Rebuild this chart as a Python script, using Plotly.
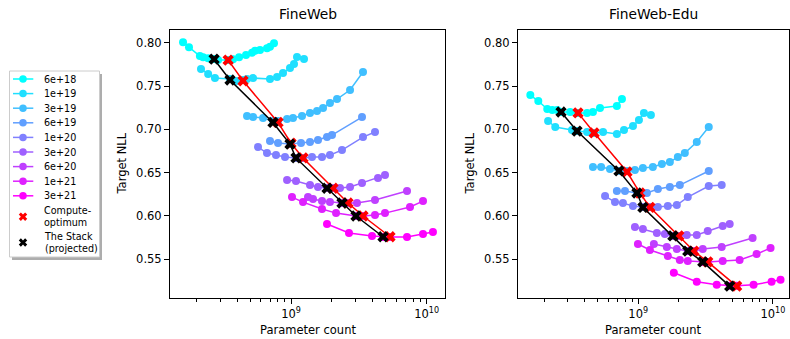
import plotly.graph_objects as go

budgets = ["6e+18", "1e+19", "3e+19", "6e+19", "1e+20", "3e+20", "6e+20", "1e+21", "3e+21"]

# ---- FineWeb (parameters in billions, target NLL) ----
fw_params = [
    [0.160, 0.177, 0.213, 0.225, 0.245, 0.271, 0.290, 0.344, 0.374, 0.414, 0.466, 0.516, 0.543, 0.591, 0.665, 0.700, 0.749],
    [0.217, 0.245, 0.275, 0.355, 0.400, 0.443, 0.474, 0.525, 0.700, 0.789, 0.873, 0.983, 1.052, 1.107, 1.247],
    [0.474, 0.525, 0.622, 0.736, 0.802, 0.935, 1.034, 1.205, 1.380, 1.555, 1.722, 1.937, 2.183, 2.723, 3.393],
    [0.700, 0.802, 0.983, 1.185, 1.380, 1.581, 1.842, 2.005, 3.337],
    [0.571, 0.665, 0.775, 0.903, 1.088, 1.226, 1.428, 1.692, 1.937, 2.375, 3.393, 4.159],
    [0.935, 1.088, 1.380, 1.581, 1.842, 2.040, 2.296, 2.723, 3.337, 4.377, 4.929],
    [1.334, 1.452, 1.692, 1.937, 2.375, 2.630, 3.064, 4.159, 7.161],
    [1.017, 1.226, 1.692, 2.147, 3.013, 3.393, 4.159, 4.929, 7.534, 9.393],
    [1.842, 2.675, 3.954, 4.764, 5.364, 7.161, 9.393, 11.12],
]
fw_nll = [
    [0.8005, 0.7947, 0.7846, 0.7831, 0.7820, 0.7812, 0.7800, 0.7800, 0.7808, 0.7831, 0.7858, 0.7885, 0.7908, 0.7916, 0.7935, 0.7954, 0.7993],
    [0.7696, 0.7639, 0.7592, 0.7581, 0.7558, 0.7569, 0.7581, 0.7592, 0.7581, 0.7604, 0.7650, 0.7708, 0.7754, 0.7835, 0.7812],
    [0.7154, 0.7142, 0.7130, 0.7096, 0.7096, 0.7119, 0.7130, 0.7154, 0.7188, 0.7211, 0.7246, 0.7304, 0.7350, 0.7454, 0.7662],
    [0.6865, 0.6842, 0.6830, 0.6842, 0.6853, 0.6877, 0.6911, 0.6934, 0.7142],
    [0.6796, 0.6726, 0.6703, 0.6680, 0.6669, 0.6669, 0.6680, 0.6680, 0.6703, 0.6761, 0.6911, 0.6969],
    [0.6415, 0.6403, 0.6357, 0.6334, 0.6322, 0.6322, 0.6322, 0.6334, 0.6380, 0.6438, 0.6472],
    [0.6218, 0.6195, 0.6172, 0.6160, 0.6149, 0.6149, 0.6149, 0.6184, 0.6288],
    [0.6218, 0.6160, 0.6080, 0.6033, 0.5999, 0.5999, 0.6010, 0.6033, 0.6103, 0.6172],
    [0.5907, 0.5803, 0.5768, 0.5757, 0.5757, 0.5757, 0.5791, 0.5815],
]
fw_opt_params = [0.344, 0.443, 0.802, 1.000, 1.226, 2.040, 2.630, 3.393, 5.364]
fw_opt_nll = [0.780, 0.756, 0.708, 0.684, 0.667, 0.632, 0.615, 0.600, 0.576]
fw_stack_params = [0.271, 0.355, 0.736, 0.983, 1.088, 1.842, 2.375, 3.013, 4.764]
fw_stack_nll = [0.781, 0.757, 0.708, 0.683, 0.667, 0.632, 0.615, 0.600, 0.576]

# ---- FineWeb-Edu ----
edu_params = [
    [0.158, 0.181, 0.211, 0.230, 0.250, 0.267, 0.312, 0.357, 0.417, 0.461, 0.520, 0.694, 0.757],
    [0.214, 0.242, 0.322, 0.351, 0.417, 0.470, 0.548, 0.694, 0.784, 0.914, 1.012, 1.102, 1.242],
    [0.461, 0.530, 0.617, 0.732, 0.825, 0.945, 1.083, 1.284, 1.498, 1.717, 1.968, 2.218, 2.721, 3.340],
    [0.694, 0.797, 0.978, 1.160, 1.399, 1.717, 2.036, 3.340],
    [0.567, 0.672, 0.770, 0.914, 1.083, 1.221, 1.399, 1.659, 1.935, 2.333, 3.340, 4.168],
    [0.945, 1.083, 1.375, 1.577, 1.807, 2.002, 2.294, 2.721, 3.283, 4.240, 4.777],
    [1.307, 1.630, 1.935, 2.333, 2.586, 3.015, 4.168, 7.071],
    [0.995, 1.221, 1.659, 2.036, 2.333, 3.015, 3.283, 4.240, 5.66, 7.57, 9.61],
    [1.838, 2.721, 3.828, 4.777, 5.383, 7.19, 9.78, 11.40],
]
edu_nll = [
    [0.7396, 0.7327, 0.7234, 0.7223, 0.7223, 0.7200, 0.7200, 0.7188, 0.7188, 0.7200, 0.7246, 0.7269, 0.7350],
    [0.7096, 0.7027, 0.6992, 0.6980, 0.6969, 0.6957, 0.6969, 0.6946, 0.6992, 0.7038, 0.7108, 0.7188, 0.7165],
    [0.6565, 0.6565, 0.6542, 0.6519, 0.6519, 0.6530, 0.6553, 0.6565, 0.6600, 0.6623, 0.6680, 0.6726, 0.6854, 0.7027],
    [0.6288, 0.6288, 0.6265, 0.6265, 0.6311, 0.6334, 0.6357, 0.6519],
    [0.6230, 0.6160, 0.6149, 0.6114, 0.6103, 0.6103, 0.6103, 0.6114, 0.6126, 0.6218, 0.6345, 0.6357],
    [0.5872, 0.5849, 0.5803, 0.5791, 0.5768, 0.5768, 0.5780, 0.5780, 0.5826, 0.5884, 0.5907],
    [0.5676, 0.5641, 0.5618, 0.5595, 0.5595, 0.5618, 0.5641, 0.5745],
    [0.5676, 0.5607, 0.5537, 0.5491, 0.5480, 0.5468, 0.5468, 0.5480, 0.5491, 0.5560, 0.5630],
    [0.5344, 0.5240, 0.5205, 0.5194, 0.5194, 0.5205, 0.5240, 0.5263],
]
edu_opt_params = [0.357, 0.470, 0.825, 1.030, 1.221, 2.002, 2.586, 3.283, 5.383]
edu_opt_nll = [0.719, 0.696, 0.651, 0.6265, 0.610, 0.577, 0.5595, 0.547, 0.519]
edu_stack_params = [0.267, 0.351, 0.719, 0.978, 1.083, 1.807, 2.333, 3.015, 4.777]
edu_stack_nll = [0.720, 0.698, 0.652, 0.6265, 0.610, 0.577, 0.5595, 0.547, 0.519]

panel_titles = ["FineWeb", "FineWeb-Edu"]
y_ticks = [0.55, 0.60, 0.65, 0.70, 0.75, 0.80]
x_major = [1e9, 1e10]
x_major_text = ["10<sup>9</sup>", "10<sup>10</sup>"]
x_minor = [m * 10 ** e for e in (8, 9) for m in range(2, 10)]

# ---------------- styling ----------------
W, H = 790, 339
FONT = "DejaVu Sans"
n_b = len(budgets)
colors = [f"rgb({round(255 * i / (n_b - 1))},{round(255 * (1 - i / (n_b - 1)))},255)" for i in range(n_b)]

fig = go.Figure()

panels = [
    (fw_params, fw_nll, fw_opt_params, fw_opt_nll, fw_stack_params, fw_stack_nll, "x", "y"),
    (edu_params, edu_nll, edu_opt_params, edu_opt_nll, edu_stack_params, edu_stack_nll, "x2", "y2"),
]
for params, nll, op, on, sp, sn, xa, ya in panels:
    for i in range(n_b):
        fig.add_trace(go.Scatter(
            x=[p * 1e9 for p in params[i]], y=nll[i], mode="lines+markers",
            line=dict(color=colors[i], width=1.5),
            marker=dict(color=colors[i], size=8, line=dict(width=0)),
            xaxis=xa, yaxis=ya, showlegend=False))
    fig.add_trace(go.Scatter(
        x=[p * 1e9 for p in op], y=on, mode="lines+markers",
        line=dict(color="red", width=1.5),
        marker=dict(symbol="x", color="red", size=10, line=dict(width=0)),
        xaxis=xa, yaxis=ya, showlegend=False))
    fig.add_trace(go.Scatter(
        x=[p * 1e9 for p in sp], y=sn, mode="lines+markers",
        line=dict(color="black", width=1.5),
        marker=dict(symbol="x", color="black", size=10, line=dict(width=0)),
        xaxis=xa, yaxis=ya, showlegend=False))

# ---------------- manual legend in pixel overlay axis ----------------
leg_rows = [79 + 14.6 * i for i in range(n_b)]
for i in range(n_b):
    fig.add_trace(go.Scatter(
        x=[13, 33.3], y=[leg_rows[i]] * 2, mode="lines",
        line=dict(color=colors[i], width=1.5),
        xaxis="x3", yaxis="y3", showlegend=False, hoverinfo="skip"))
    fig.add_trace(go.Scatter(
        x=[23], y=[leg_rows[i]], mode="markers",
        marker=dict(color=colors[i], size=7.5, line=dict(width=0)),
        xaxis="x3", yaxis="y3", showlegend=False, hoverinfo="skip"))
extra = [("Compute-<br>optimum", "red", 216.7), ("The Stack<br>(projected)", "black", 242.5)]
for txt, col, yy in extra:
    fig.add_trace(go.Scatter(
        x=[23], y=[yy], mode="markers",
        marker=dict(symbol="x", color=col, size=7.5, line=dict(width=0)),
        xaxis="x3", yaxis="y3", showlegend=False, hoverinfo="skip"))

annotations = []
for i in range(n_b):
    annotations.append(dict(x=41.5, y=leg_rows[i], xref="x3", yref="y3", text=budgets[i],
                            showarrow=False, xanchor="left", yanchor="middle",
                            font=dict(family=FONT, size=9.6, color="black")))
for txt, col, yy in extra:
    annotations.append(dict(x=41.5, y=yy, xref="x3", yref="y3", text=txt, align="left",
                            showarrow=False, xanchor="left", yanchor="middle",
                            font=dict(family=FONT, size=9.6, color="black")))

# titles and axis labels
panel_px = [(170, 445), (518, 788.5)]
for (l, r), t in zip(panel_px, panel_titles):
    c = (l + r) / 2
    annotations.append(dict(x=c, y=14, xref="x3", yref="y3", text=t, showarrow=False,
                            xanchor="center", yanchor="middle",
                            font=dict(family=FONT, size=13.8, color="black")))
    annotations.append(dict(x=c, y=329.5, xref="x3", yref="y3", text="Parameter count",
                            showarrow=False, xanchor="center", yanchor="middle",
                            font=dict(family=FONT, size=11.5, color="black")))
    annotations.append(dict(x=l - 48.5, y=164, xref="x3", yref="y3", text="Target NLL",
                            showarrow=False, textangle=-90, xanchor="center", yanchor="middle",
                            font=dict(family=FONT, size=11.5, color="black")))

shapes = [
    dict(type="rect", xref="x3", yref="y3", x0=12, y0=74, x1=102, y1=260,
         fillcolor="rgba(0,0,0,0.32)", line=dict(width=0), layer="below"),
    dict(type="rect", xref="x3", yref="y3", x0=9.5, y0=71, x1=99.5, y1=257,
         fillcolor="white", line=dict(color="#cccccc", width=1), layer="below"),
]

ydom = [1 - 298 / H, 1 - 30 / H]
tickfont = dict(family=FONT, size=11.5, color="black")
common_x = dict(type="log", showline=True, linecolor="black", linewidth=1, mirror=True,
                ticks="outside", ticklen=5, tickwidth=1, tickcolor="black",
                tickvals=x_major, ticktext=x_major_text, tickfont=tickfont,
                showgrid=False, zeroline=False,
                minor=dict(tickvals=x_minor, ticks="outside", ticklen=2.8, tickwidth=0.8,
                           tickcolor="black", showgrid=False))
common_y = dict(range=[0.5053, 0.8147], domain=ydom, showline=True, linecolor="black",
                linewidth=1, mirror=True, ticks="outside", ticklen=5, tickwidth=1,
                tickcolor="black", tickvals=y_ticks, ticktext=[f"{v:.2f}" for v in y_ticks],
                tickfont=tickfont, showgrid=False, zeroline=False)

fig.update_layout(
    width=W, height=H, margin=dict(l=0, r=0, t=0, b=0),
    paper_bgcolor="white", plot_bgcolor="rgba(0,0,0,0)",
    xaxis=dict(domain=[170 / W, 445 / W], range=[8.108, 10.135], anchor="y", **common_x),
    yaxis=dict(anchor="x", **common_y),
    xaxis2=dict(domain=[518 / W, 788.5 / W], range=[8.107, 10.116], anchor="y2", **common_x),
    yaxis2=dict(anchor="x2", **common_y),
    xaxis3=dict(domain=[0, 1], range=[0, W], visible=False, anchor="y3", fixedrange=True),
    yaxis3=dict(domain=[0, 1], range=[H, 0], visible=False, anchor="x3", fixedrange=True),
    annotations=annotations, shapes=shapes, showlegend=False,
    font=dict(family=FONT),
)

fig.write_html("out.html")
